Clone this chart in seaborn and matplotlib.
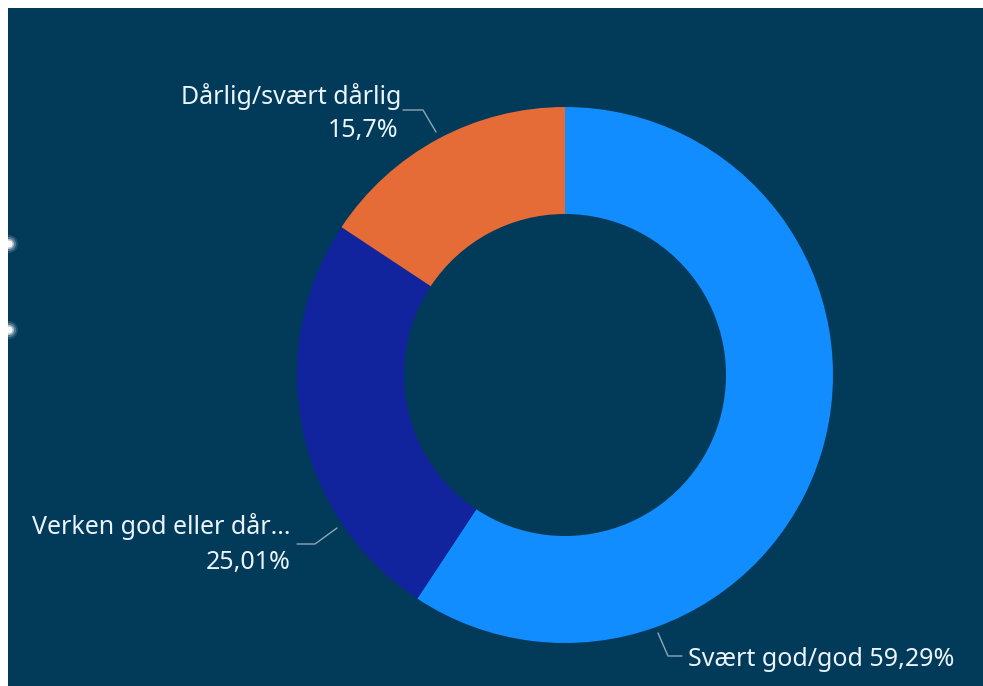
import matplotlib
matplotlib.use("Agg")
import matplotlib.pyplot as plt
import seaborn as sns
from matplotlib.patches import Rectangle, Circle

categories = ["Svært god/god", "Verken god eller dår...", "Dårlig/svært dårlig"]
values = [59.29, 25.01, 15.7]
value_labels = ["59,29%", "25,01%", "15,7%"]
colors = ["#118DFF", "#12239E", "#E66C37"]

sns.set_theme(style="white")
plt.rcParams['font.family'] = ['Noto Sans', 'DejaVu Sans']

W, H = 983, 686
BG = "#023A5A"
fig = plt.figure(figsize=(W / 100, H / 100), dpi=100, facecolor=BG)
ax = fig.add_axes([0, 0, 1, 1])
ax.set_facecolor(BG)

cx, cy, R, r_in = 565, H - 375, 268, 161
ax.pie(values, colors=colors, startangle=90, counterclock=False,
       center=(cx, cy), radius=R, frame=True,
       wedgeprops=dict(width=R - r_in, edgecolor="none", linewidth=0))
ax.set_aspect("equal", adjustable="datalim")
ax.set_xlim(0, W)
ax.set_ylim(0, H)
ax.axis("off")

# white frame strips (top / left) in figure pixels
fig.patches.append(Rectangle((0, H - 8), W, 8, transform=None, facecolor="white",
                             edgecolor="none", zorder=5, figure=fig))
fig.patches.append(Rectangle((0, 0), 8, H, transform=None, facecolor="white",
                             edgecolor="none", zorder=5, figure=fig))

# blurry white dots at left edge
for yy in (244, 330):
    for r, a in ((9, 0.12), (7, 0.25), (5, 0.5), (3.5, 0.9)):
        ax.add_patch(Circle((9, H - yy), r, facecolor="white", alpha=a,
                            edgecolor="none", zorder=6))

tc = "#EAF4FA"
lc = "#8FA6B4"
fs = 18

def Y(y):
    return H - y

# Dårlig/svært dårlig
ax.plot([403, 423, 436], [Y(110), Y(110), Y(132)], color=lc, lw=1)
ax.text(401, Y(97), categories[2], color=tc, fontsize=fs, ha="right", va="center")
ax.text(398, Y(131), value_labels[2], color=tc, fontsize=fs, ha="right", va="center")

# Verken god eller dår...
ax.plot([297, 315, 337], [Y(544), Y(544), Y(528)], color=lc, lw=1)
ax.text(291, Y(527), categories[1], color=tc, fontsize=fs, ha="right", va="center")
ax.text(291, Y(563), value_labels[1], color=tc, fontsize=fs, ha="right", va="center")

# Svært god/god
ax.plot([658, 668, 682], [Y(633), Y(656), Y(656)], color=lc, lw=1)
ax.text(688, Y(659), f"{categories[0]} {value_labels[0]}", color=tc, fontsize=fs,
        ha="left", va="center")

fig.savefig("out.png", dpi=100, facecolor=BG)
